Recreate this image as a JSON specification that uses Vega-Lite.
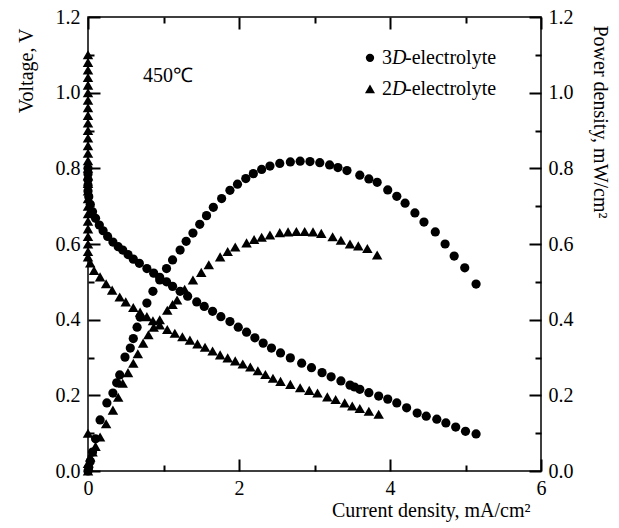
{
  "$schema": "https://vega.github.io/schema/vega-lite/v6.json",
  "width": 453,
  "height": 454,
  "autosize": {"type": "none"},
  "padding": {"left": 88, "top": 17, "right": 78, "bottom": 57},
  "background": "white",
  "data": {"values": [{}]},
  "config": {
    "view": {"stroke": "black", "strokeWidth": 1.5},
    "font": "Liberation Serif, Times New Roman, serif",
    "text": {"font": "Liberation Serif, Times New Roman, serif"},
    "axis": {
      "labelFont": "Liberation Serif, Times New Roman, serif", "titleFont": "Liberation Serif, Times New Roman, serif",
      "labelFontSize": 20, "titleFontSize": 20, "titleFontWeight": "normal",
      "labelColor": "black", "titleColor": "black",
      "domain": false, "tickColor": "black",
      "tickWidth": 2, "grid": false,
      "labelOverlap": false, "labelFlush": false, "labelBound": false
    }
  },
  "datasets": {
    "pts": [
      {"e":"3D","x":0,"y":0.80},{"e":"3D","x":0,"y":0.785},{"e":"3D","x":0,"y":0.77},{"e":"3D","x":0,"y":0.755},{"e":"3D","x":0,"y":0.74},{"e":"3D","x":0.01,"y":0.725},{"e":"3D","x":0.03,"y":0.705},{"e":"3D","x":0.06,"y":0.685},{"e":"3D","x":0.1,"y":0.668},{"e":"3D","x":0.15,"y":0.65},{"e":"3D","x":0.2,"y":0.635},{"e":"3D","x":0.26,"y":0.62},{"e":"3D","x":0.33,"y":0.605},{"e":"3D","x":0.4,"y":0.593},{"e":"3D","x":0.46,"y":0.584},{"e":"3D","x":0.53,"y":0.572},{"e":"3D","x":0.6,"y":0.56},{"e":"3D","x":0.68,"y":0.549},{"e":"3D","x":0.78,"y":0.535},{"e":"3D","x":0.87,"y":0.523},{"e":"3D","x":0.95,"y":0.512},{"e":"3D","x":1.04,"y":0.5},{"e":"3D","x":1.12,"y":0.488},{"e":"3D","x":1.22,"y":0.475},{"e":"3D","x":1.32,"y":0.462},{"e":"3D","x":1.44,"y":0.447},{"e":"3D","x":1.54,"y":0.435},{"e":"3D","x":1.65,"y":0.422},{"e":"3D","x":1.76,"y":0.408},{"e":"3D","x":1.88,"y":0.395},{"e":"3D","x":1.99,"y":0.38},{"e":"3D","x":2.1,"y":0.367},{"e":"3D","x":2.21,"y":0.352},{"e":"3D","x":2.32,"y":0.338},{"e":"3D","x":2.43,"y":0.325},{"e":"3D","x":2.55,"y":0.312},{"e":"3D","x":2.68,"y":0.299},{"e":"3D","x":2.83,"y":0.285},{"e":"3D","x":2.96,"y":0.273},{"e":"3D","x":3.1,"y":0.26},{"e":"3D","x":3.22,"y":0.249},{"e":"3D","x":3.35,"y":0.238},{"e":"3D","x":3.47,"y":0.227},{"e":"3D","x":3.53,"y":0.222},{"e":"3D","x":3.6,"y":0.216},{"e":"3D","x":3.72,"y":0.207},{"e":"3D","x":3.85,"y":0.198},{"e":"3D","x":3.97,"y":0.19},{"e":"3D","x":4.09,"y":0.18},{"e":"3D","x":4.22,"y":0.167},{"e":"3D","x":4.36,"y":0.153},{"e":"3D","x":4.48,"y":0.145},{"e":"3D","x":4.62,"y":0.137},{"e":"3D","x":4.74,"y":0.127},{"e":"3D","x":4.87,"y":0.116},{"e":"3D","x":5.0,"y":0.105},{"e":"3D","x":5.14,"y":0.098},
      {"e":"3D","x":0,"y":0},{"e":"3D","x":0.01,"y":0.01},{"e":"3D","x":0.03,"y":0.025},{"e":"3D","x":0.06,"y":0.05},{"e":"3D","x":0.1,"y":0.085},{"e":"3D","x":0.16,"y":0.135},{"e":"3D","x":0.25,"y":0.18},{"e":"3D","x":0.33,"y":0.206},{"e":"3D","x":0.38,"y":0.233},{"e":"3D","x":0.42,"y":0.254},{"e":"3D","x":0.49,"y":0.301},{"e":"3D","x":0.56,"y":0.325},{"e":"3D","x":0.6,"y":0.35},{"e":"3D","x":0.65,"y":0.38},{"e":"3D","x":0.69,"y":0.407},{"e":"3D","x":0.78,"y":0.444},{"e":"3D","x":0.86,"y":0.475},{"e":"3D","x":0.95,"y":0.505},{"e":"3D","x":1.04,"y":0.535},{"e":"3D","x":1.12,"y":0.558},{"e":"3D","x":1.22,"y":0.584},{"e":"3D","x":1.3,"y":0.607},{"e":"3D","x":1.39,"y":0.629},{"e":"3D","x":1.48,"y":0.652},{"e":"3D","x":1.57,"y":0.675},{"e":"3D","x":1.66,"y":0.697},{"e":"3D","x":1.77,"y":0.72},{"e":"3D","x":1.88,"y":0.742},{"e":"3D","x":1.98,"y":0.758},{"e":"3D","x":2.09,"y":0.773},{"e":"3D","x":2.19,"y":0.786},{"e":"3D","x":2.3,"y":0.797},{"e":"3D","x":2.41,"y":0.806},{"e":"3D","x":2.54,"y":0.813},{"e":"3D","x":2.68,"y":0.817},{"e":"3D","x":2.81,"y":0.819},{"e":"3D","x":2.94,"y":0.818},{"e":"3D","x":3.07,"y":0.815},{"e":"3D","x":3.2,"y":0.809},{"e":"3D","x":3.31,"y":0.802},{"e":"3D","x":3.43,"y":0.794},{"e":"3D","x":3.6,"y":0.782},{"e":"3D","x":3.72,"y":0.772},{"e":"3D","x":3.83,"y":0.763},{"e":"3D","x":3.97,"y":0.743},{"e":"3D","x":4.09,"y":0.726},{"e":"3D","x":4.2,"y":0.708},{"e":"3D","x":4.33,"y":0.682},{"e":"3D","x":4.45,"y":0.658},{"e":"3D","x":4.6,"y":0.632},{"e":"3D","x":4.73,"y":0.6},{"e":"3D","x":4.85,"y":0.568},{"e":"3D","x":4.99,"y":0.537},{"e":"3D","x":5.14,"y":0.494},
      {"e":"2D","x":0,"y":1.1},{"e":"2D","x":0,"y":1.08},{"e":"2D","x":0,"y":1.06},{"e":"2D","x":0,"y":1.04},{"e":"2D","x":0,"y":1.02},{"e":"2D","x":0,"y":1.0},{"e":"2D","x":0,"y":0.98},{"e":"2D","x":0,"y":0.96},{"e":"2D","x":0,"y":0.94},{"e":"2D","x":0,"y":0.92},{"e":"2D","x":0,"y":0.9},{"e":"2D","x":0,"y":0.88},{"e":"2D","x":0,"y":0.86},{"e":"2D","x":0,"y":0.84},{"e":"2D","x":0,"y":0.82},{"e":"2D","x":0,"y":0.8},{"e":"2D","x":0,"y":0.78},{"e":"2D","x":0,"y":0.76},{"e":"2D","x":0,"y":0.74},{"e":"2D","x":0,"y":0.72},{"e":"2D","x":0,"y":0.7},{"e":"2D","x":0,"y":0.68},{"e":"2D","x":0,"y":0.66},{"e":"2D","x":0,"y":0.64},{"e":"2D","x":0,"y":0.62},{"e":"2D","x":0,"y":0.6},{"e":"2D","x":0,"y":0.58},
      {"e":"2D","x":0,"y":0.566},{"e":"2D","x":0.03,"y":0.55},{"e":"2D","x":0.08,"y":0.53},{"e":"2D","x":0.16,"y":0.513},{"e":"2D","x":0.24,"y":0.495},{"e":"2D","x":0.32,"y":0.478},{"e":"2D","x":0.42,"y":0.46},{"e":"2D","x":0.5,"y":0.447},{"e":"2D","x":0.6,"y":0.432},{"e":"2D","x":0.69,"y":0.42},{"e":"2D","x":0.78,"y":0.408},{"e":"2D","x":0.86,"y":0.397},{"e":"2D","x":0.95,"y":0.386},{"e":"2D","x":1.05,"y":0.374},{"e":"2D","x":1.15,"y":0.364},{"e":"2D","x":1.25,"y":0.355},{"e":"2D","x":1.35,"y":0.346},{"e":"2D","x":1.45,"y":0.336},{"e":"2D","x":1.55,"y":0.327},{"e":"2D","x":1.65,"y":0.317},{"e":"2D","x":1.75,"y":0.307},{"e":"2D","x":1.85,"y":0.299},{"e":"2D","x":1.95,"y":0.291},{"e":"2D","x":2.05,"y":0.283},{"e":"2D","x":2.15,"y":0.275},{"e":"2D","x":2.25,"y":0.265},{"e":"2D","x":2.35,"y":0.255},{"e":"2D","x":2.45,"y":0.245},{"e":"2D","x":2.55,"y":0.237},{"e":"2D","x":2.68,"y":0.229},{"e":"2D","x":2.81,"y":0.22},{"e":"2D","x":2.93,"y":0.213},{"e":"2D","x":3.04,"y":0.206},{"e":"2D","x":3.17,"y":0.196},{"e":"2D","x":3.28,"y":0.189},{"e":"2D","x":3.4,"y":0.18},{"e":"2D","x":3.5,"y":0.172},{"e":"2D","x":3.6,"y":0.165},{"e":"2D","x":3.72,"y":0.158},{"e":"2D","x":3.85,"y":0.15},
      {"e":"2D","x":0,"y":0},{"e":"2D","x":0,"y":0.02},{"e":"2D","x":0,"y":0.1},{"e":"2D","x":0.01,"y":0.01},{"e":"2D","x":0.03,"y":0.037},{"e":"2D","x":0.06,"y":0.05},{"e":"2D","x":0.1,"y":0.065},{"e":"2D","x":0.16,"y":0.09},{"e":"2D","x":0.24,"y":0.125},{"e":"2D","x":0.33,"y":0.161},{"e":"2D","x":0.4,"y":0.195},{"e":"2D","x":0.46,"y":0.232},{"e":"2D","x":0.53,"y":0.26},{"e":"2D","x":0.6,"y":0.285},{"e":"2D","x":0.66,"y":0.31},{"e":"2D","x":0.73,"y":0.338},{"e":"2D","x":0.8,"y":0.36},{"e":"2D","x":0.87,"y":0.38},{"e":"2D","x":0.95,"y":0.4},{"e":"2D","x":1.05,"y":0.425},{"e":"2D","x":1.12,"y":0.44},{"e":"2D","x":1.18,"y":0.452},{"e":"2D","x":1.28,"y":0.48},{"e":"2D","x":1.39,"y":0.505},{"e":"2D","x":1.5,"y":0.525},{"e":"2D","x":1.6,"y":0.545},{"e":"2D","x":1.75,"y":0.566},{"e":"2D","x":1.85,"y":0.58},{"e":"2D","x":1.95,"y":0.592},{"e":"2D","x":2.1,"y":0.603},{"e":"2D","x":2.2,"y":0.612},{"e":"2D","x":2.3,"y":0.618},{"e":"2D","x":2.41,"y":0.624},{"e":"2D","x":2.54,"y":0.63},{"e":"2D","x":2.65,"y":0.632},{"e":"2D","x":2.76,"y":0.633},{"e":"2D","x":2.87,"y":0.633},{"e":"2D","x":2.98,"y":0.632},{"e":"2D","x":3.09,"y":0.628},{"e":"2D","x":3.24,"y":0.619},{"e":"2D","x":3.35,"y":0.61},{"e":"2D","x":3.47,"y":0.6},{"e":"2D","x":3.58,"y":0.595},{"e":"2D","x":3.7,"y":0.588},{"e":"2D","x":3.83,"y":0.571}
    ]
  },
  "resolve": {"axis": {"x": "independent", "y": "independent"}},
  "layer": [
    {
      "data": {"name": "pts"},
      "mark": {"type": "point", "filled": true, "opacity": 1, "color": "black", "strokeWidth": 0},
      "encoding": {
        "x": {"field": "x", "type": "quantitative", "scale": {"domain": [0, 6], "nice": false, "zero": false},
          "axis": {"orient": "bottom", "values": [0,2,4,6], "ticks": false, "tickSize": 0,
            "labelPadding": 7, "title": "Current density, mA/cm²", "titleAnchor": "end", "titleX": 442, "titleY": 45, "titleBaseline": "alphabetic"}},
        "y": {"field": "y", "type": "quantitative", "scale": {"domain": [0, 1.2], "nice": false, "zero": false},
          "axis": {"orient": "left", "values": [0,0.2,0.4,0.6,0.8,1.0,1.2], "format": ".1f", "ticks": false, "tickSize": 0,
            "labelPadding": 8, "title": "Voltage, V", "titleAnchor": "end", "titleY": 11, "titlePadding": 19}},
        "shape": {"field": "e", "type": "nominal", "scale": {"domain": ["3D", "2D"], "range": ["circle", "triangle-up"]}, "legend": null},
        "size": {"field": "e", "type": "nominal", "scale": {"domain": ["3D", "2D"], "range": [85, 110]}, "legend": null}
      }
    },
    {
      "data": {"name": "pts"},
      "mark": {"type": "point", "opacity": 0},
      "encoding": {
        "x": {"field": "x", "type": "quantitative",
          "axis": {"orient": "bottom", "values": [0,2,4,6], "ticks": true, "tickSize": 12, "offset": -12, "labels": false, "title": null}},
        "y": {"field": "y", "type": "quantitative",
          "axis": {"orient": "left", "values": [0,0.2,0.4,0.6,0.8,1.0,1.2], "ticks": true, "tickSize": 12, "offset": -12, "labels": false, "title": null}}
      }
    },
    {
      "data": {"name": "pts"},
      "mark": {"type": "point", "opacity": 0},
      "encoding": {
        "x": {"field": "x", "type": "quantitative",
          "axis": {"orient": "bottom", "values": [1,3,5], "ticks": true, "tickSize": 6, "offset": -6, "labels": false, "title": null}},
        "y": {"field": "y", "type": "quantitative",
          "axis": {"orient": "left", "values": [0.1,0.3,0.5,0.7,0.9,1.1], "ticks": true, "tickSize": 6, "offset": -6, "labels": false, "title": null}}
      }
    },
    {
      "data": {"name": "pts"},
      "mark": {"type": "point", "opacity": 0},
      "encoding": {
        "x": {"field": "x", "type": "quantitative",
          "axis": {"orient": "top", "values": [0,2,4,6], "ticks": true, "tickSize": 12, "offset": -12, "labels": false, "title": null}},
        "y": {"field": "y", "type": "quantitative",
          "axis": {"orient": "right", "values": [0,0.2,0.4,0.6,0.8,1.0,1.2], "format": ".1f", "ticks": false, "tickSize": 0,
            "labelPadding": 7, "title": "Power density, mW/cm²", "titleAnchor": "end", "titleAlign": "left", "titleY": 8, "titlePadding": 16}}
      }
    },
    {
      "data": {"name": "pts"},
      "mark": {"type": "point", "opacity": 0},
      "encoding": {
        "x": {"field": "x", "type": "quantitative",
          "axis": {"orient": "top", "values": [1,3,5], "ticks": true, "tickSize": 6, "offset": -6, "labels": false, "title": null}},
        "y": {"field": "y", "type": "quantitative",
          "axis": {"orient": "right", "values": [0,0.2,0.4,0.6,0.8,1.0,1.2], "ticks": true, "tickSize": 12, "offset": -12, "labels": false, "title": null}}
      }
    },
    {
      "data": {"name": "pts"},
      "mark": {"type": "point", "opacity": 0},
      "encoding": {
        "x": {"field": "x", "type": "quantitative", "axis": null},
        "y": {"field": "y", "type": "quantitative",
          "axis": {"orient": "right", "values": [0.1,0.3,0.5,0.7,0.9,1.1], "ticks": true, "tickSize": 6, "offset": -6, "labels": false, "title": null}}
      }
    },
    {
      "mark": {"type": "text", "text": "450℃", "fontSize": 20, "align": "left", "baseline": "middle", "color": "black"},
      "encoding": {"x": {"datum": 0.73, "type": "quantitative", "axis": null}, "y": {"datum": 1.044, "type": "quantitative", "axis": null}}
    },
    {
      "mark": {"type": "point", "shape": "circle", "filled": true, "opacity": 1, "color": "black", "size": 70, "strokeWidth": 0},
      "encoding": {"x": {"datum": 3.735, "type": "quantitative", "axis": null}, "y": {"datum": 1.092, "type": "quantitative", "axis": null}}
    },
    {
      "mark": {"type": "point", "shape": "triangle-up", "filled": true, "opacity": 1, "color": "black", "size": 100, "strokeWidth": 0},
      "encoding": {"x": {"datum": 3.735, "type": "quantitative", "axis": null}, "y": {"datum": 1.01, "type": "quantitative", "axis": null}}
    },
    {
      "mark": {"type": "text", "text": "3", "fontSize": 20, "align": "left", "baseline": "middle", "color": "black"},
      "encoding": {"x": {"datum": 3.894, "type": "quantitative", "axis": null}, "y": {"datum": 1.092, "type": "quantitative", "axis": null}}
    },
    {
      "mark": {"type": "text", "text": "2", "fontSize": 20, "align": "left", "baseline": "middle", "color": "black"},
      "encoding": {"x": {"datum": 3.894, "type": "quantitative", "axis": null}, "y": {"datum": 1.01, "type": "quantitative", "axis": null}}
    },
    {
      "mark": {"type": "text", "text": "D", "fontStyle": "italic", "fontSize": 20, "align": "left", "baseline": "middle", "color": "black"},
      "encoding": {"x": {"datum": 4.026, "type": "quantitative", "axis": null}, "y": {"datum": 1.092, "type": "quantitative", "axis": null}}
    },
    {
      "mark": {"type": "text", "text": "D", "fontStyle": "italic", "fontSize": 20, "align": "left", "baseline": "middle", "color": "black"},
      "encoding": {"x": {"datum": 4.026, "type": "quantitative", "axis": null}, "y": {"datum": 1.01, "type": "quantitative", "axis": null}}
    },
    {
      "mark": {"type": "text", "text": "-electrolyte", "fontSize": 20, "align": "left", "baseline": "middle", "color": "black"},
      "encoding": {"x": {"datum": 4.199, "type": "quantitative", "axis": null}, "y": {"datum": 1.092, "type": "quantitative", "axis": null}}
    },
    {
      "mark": {"type": "text", "text": "-electrolyte", "fontSize": 20, "align": "left", "baseline": "middle", "color": "black"},
      "encoding": {"x": {"datum": 4.199, "type": "quantitative", "axis": null}, "y": {"datum": 1.01, "type": "quantitative", "axis": null}}
    }
  ]
}
